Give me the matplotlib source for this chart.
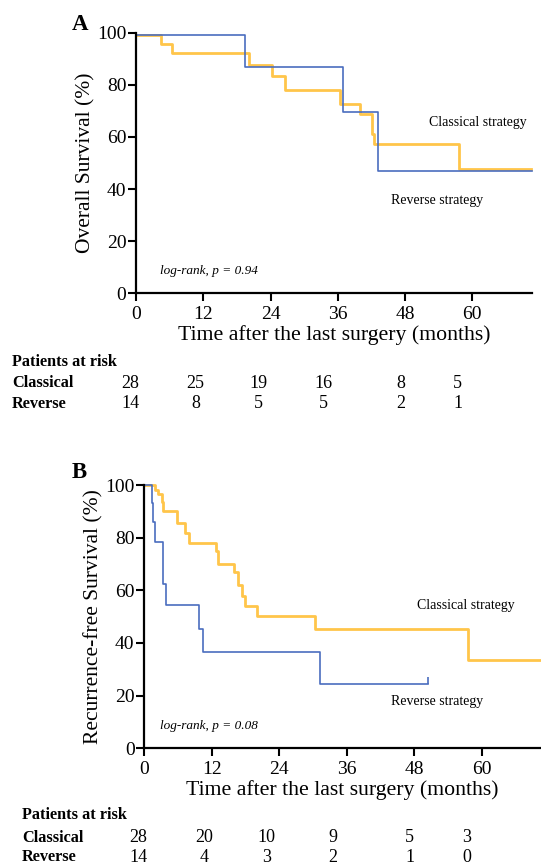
import matplotlib
matplotlib.use("Agg")
import matplotlib.pyplot as plt
import matplotlib.transforms as mtransforms

plt.rcParams['font.family'] = ['Liberation Serif', 'DejaVu Serif']

# --- data ---
# A: overall survival
os_classical_t = [0, 4.5, 6.5, 20.2, 24.2, 26.6, 36.4, 40.0, 42.1, 42.5, 57.6, 70.4]
os_classical_s = [99, 95.5, 92.1, 87.6, 83.4, 78.0, 72.6, 68.8, 61.1, 57.3, 47.7, 47.7]
os_reverse_t = [0, 19.5, 36.9, 43.1, 70.6]
os_reverse_s = [99, 87.0, 69.4, 46.8, 46.8]

# B: recurrence-free survival
rfs_classical_t = [0, 1.9, 2.5, 3.1, 3.4, 5.8, 7.2, 8.0, 12.8, 13.1, 15.9, 16.7,
                   17.3, 17.9, 20.1, 30.3, 57.6, 70.4]
rfs_classical_s = [100, 98, 96.5, 93.5, 90, 85.7, 81.6, 77.9, 74.9, 70.1, 67.1, 62.0,
                   57.8, 54.0, 50.4, 45.3, 33.7, 33.7]
rfs_reverse_t = [0, 1.3, 1.6, 1.9, 3.3, 3.8, 9.7, 10.4, 31.2, 50.4]
rfs_reverse_s = [100, 93.3, 86.1, 78.2, 62.4, 54.4, 45.3, 36.5, 24.4, 24.4]
rfs_reverse_censor_t = [50.4]
rfs_reverse_censor_s = [24.4]

xticks = [0, 12, 24, 36, 48, 60]
yticks = [0, 20, 40, 60, 80, 100]

os_risk_classical = [28, 25, 19, 16, 8, 5]
os_risk_reverse = [14, 8, 5, 5, 2, 1]
rfs_risk_classical = [28, 20, 10, 9, 5, 3]
rfs_risk_reverse = [14, 4, 3, 2, 1, 0]

os_p = "log-rank, p = 0.94"
rfs_p = "log-rank, p = 0.08"

YELLOW = "#FFC54A"
BLUE = "#4A6DBF"

W, H = 541, 866
fig = plt.figure(figsize=(W / 100, H / 100), dpi=100)


def box(left, top, right, bottom):
    return [left / W, 1 - bottom / H, (right - left) / W, (bottom - top) / H]


def style(ax, xmax, ylabel):
    ax.set_xlim(0, xmax)
    ax.set_ylim(0, 100)
    ax.set_xticks(xticks)
    ax.set_yticks(yticks)
    for s in ['top', 'right']:
        ax.spines[s].set_visible(False)
    for s in ['left', 'bottom']:
        ax.spines[s].set_linewidth(1.6)
    ax.tick_params(axis='both', direction='out', length=6, width=1.5, labelsize=14)
    ax.tick_params(axis='y', pad=1)
    ax.tick_params(axis='x', pad=3)
    ax.set_xlabel("Time after the last surgery (months)", fontsize=15.7, labelpad=2)
    ax.set_ylabel(ylabel, fontsize=15.5, labelpad=1)


# risk table columns (months, in axis x units)
risk_cols = [-1.0, 10.6, 21.8, 33.5, 47.2, 57.4]

def risk_table(ax, left_px, y_head, y_c, y_r, classical, reverse):
    fig.text(left_px / W, 1 - y_head / H, "Patients at risk", fontsize=11.7,
             fontweight='bold', va='center')
    fig.text(left_px / W, 1 - y_c / H, "Classical", fontsize=11.7,
             fontweight='bold', va='center')
    fig.text(left_px / W, 1 - y_r / H, "Reverse", fontsize=11.7,
             fontweight='bold', va='center')
    tr = mtransforms.blended_transform_factory(ax.transData, fig.transFigure)
    for x, c, r in zip(risk_cols, classical, reverse):
        fig.text(x, 1 - y_c / H, str(c), transform=tr, ha='center', va='center', fontsize=13)
        fig.text(x, 1 - y_r / H, str(r), transform=tr, ha='center', va='center', fontsize=13)


# ---- panel A ----
axA = fig.add_axes(box(136, 32.7, 531.7, 293.3))
axA.step(os_classical_t, os_classical_s, where='post', color=YELLOW, lw=2.0, clip_on=False)
axA.step(os_reverse_t, os_reverse_s, where='post', color=BLUE, lw=1.2, clip_on=False)
style(axA, 70.6, "Overall Survival (%)")
axA.text(52.3, 65.5, "Classical strategy", fontsize=10, va='center')
axA.text(45.5, 35.8, "Reverse strategy", fontsize=10, va='center')
axA.text(4.3, 8.7, os_p, fontsize=9.5, style='italic', va='center')
fig.text(72 / W, 1 - 25 / H, "A", fontsize=16.5, fontweight='bold', va='center')
risk_table(axA, 12, 362, 383, 404, os_risk_classical, os_risk_reverse)

# ---- panel B ----
axB = fig.add_axes(box(144.3, 485, 540, 748.3))
axB.step(rfs_classical_t, rfs_classical_s, where='post', color=YELLOW, lw=2.0, clip_on=False)
axB.step(rfs_reverse_t, rfs_reverse_s, where='post', color=BLUE, lw=1.2, clip_on=False)
axB.plot(rfs_reverse_censor_t, rfs_reverse_censor_s, linestyle='none', marker=2,
         markersize=5, markeredgewidth=1.2, color=BLUE)
style(axB, 70.4, "Recurrence-free Survival (%)")
axB.text(48.5, 54.4, "Classical strategy", fontsize=10, va='center')
axB.text(43.9, 17.7, "Reverse strategy", fontsize=10, va='center')
axB.text(2.8, 8.6, rfs_p, fontsize=9.5, style='italic', va='center')
fig.text(72 / W, 1 - 472 / H, "B", fontsize=16.5, fontweight='bold', va='center')
risk_table(axB, 22, 815, 838, 857, rfs_risk_classical, rfs_risk_reverse)

fig.savefig("out.png", dpi=100)
